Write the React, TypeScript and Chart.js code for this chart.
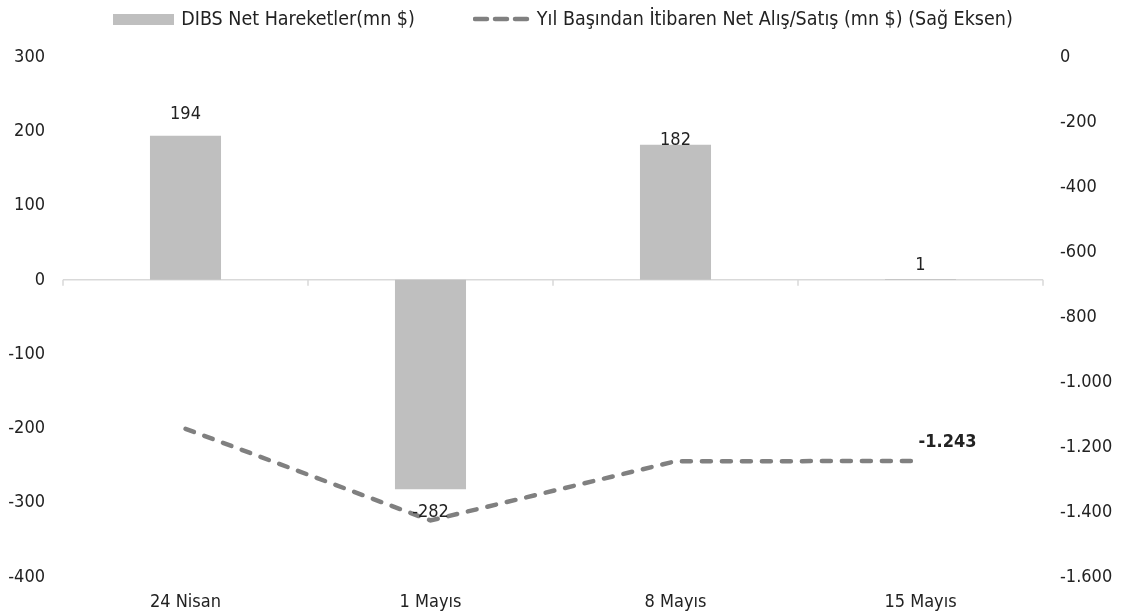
import React, { useEffect, useRef } from "react";
import { Chart, registerables } from "chart.js";

Chart.register(...registerables);

const categories = ["24 Nisan", "1 Mayıs", "8 Mayıs", "15 Mayıs"];
const dibsNet = [194, -282, 182, 1];
const ytdNet = [-1144, -1426, -1244, -1243];
const barLabel = "DIBS Net Hareketler(mn $)";
const lineLabel = "Yıl Başından İtibaren Net Alış/Satış (mn $) (Sağ Eksen)";
const leftRange = [-400, 300, 100];
const rightRange = [-1600, 0, 200];

const FONT = "'DejaVu Sans Condensed', 'DejaVu Sans', sans-serif";
const TEXT = "#222";
const BAR_COLOR = "#BFBFBF";
const LINE_COLOR = "#808080";

const fmtTR = (v: number) => {
  const s = Math.abs(Math.round(v)).toString().replace(/\B(?=(\d{3})+(?!\d))/g, ".");
  return (v < 0 ? "-" : "") + s;
};

const barOffsets = [-21, 23, -4, -14];

const overlay = {
  id: "overlay",
  beforeDatasetsDraw(chart: any) {
    const { ctx, chartArea } = chart;
    const x = chart.scales.x;
    const y = chart.scales.y;
    const y0 = y.getPixelForValue(0);
    ctx.save();
    ctx.strokeStyle = "#D9D9D9";
    ctx.lineWidth = 1.5;
    ctx.beginPath();
    ctx.moveTo(chartArea.left, y0);
    ctx.lineTo(chartArea.right, y0);
    for (let i = 0; i <= categories.length; i++) {
      const px = x.getPixelForValue(i - 0.5);
      ctx.moveTo(px, y0);
      ctx.lineTo(px, y0 + 6);
    }
    ctx.stroke();
    ctx.restore();
  },
  afterDatasetsDraw(chart: any) {
    const { ctx } = chart;
    ctx.save();
    ctx.font = `18px ${FONT}`;
    ctx.fillStyle = TEXT;
    ctx.textAlign = "center";
    ctx.textBaseline = "middle";
    const barMeta = chart.getDatasetMeta(0);
    barMeta.data.forEach((el: any, i: number) => {
      ctx.fillText(String(dibsNet[i]), el.x, el.y + barOffsets[i]);
    });
    const lineMeta = chart.getDatasetMeta(1);
    const last = lineMeta.data.length - 1;
    const p = lineMeta.data[last];
    ctx.font = `bold 18px ${FONT}`;
    ctx.fillText(fmtTR(ytdNet[last]), p.x + 27, p.y - 19);
    ctx.restore();
  },
};

export default function App() {
  const ref = useRef<HTMLCanvasElement>(null);
  useEffect(() => {
    document.body.style.margin = "0";
    const chart = new Chart(ref.current as HTMLCanvasElement, {
      type: "bar",
      data: {
        labels: categories,
        datasets: [
          {
            type: "bar",
            label: barLabel,
            data: dibsNet,
            backgroundColor: BAR_COLOR,
            borderWidth: 0,
            yAxisID: "y",
            categoryPercentage: 1,
            barPercentage: 0.29,
          } as any,
          {
            type: "line",
            label: lineLabel,
            data: ytdNet,
            borderColor: LINE_COLOR,
            backgroundColor: LINE_COLOR,
            borderWidth: 4.5,
            borderDash: [9, 11],
            borderCapStyle: "round",
            pointRadius: 0,
            tension: 0,
            fill: false,
            yAxisID: "y1",
          } as any,
        ],
      },
      options: {
        animation: false,
        responsive: false,
        maintainAspectRatio: false,
        layout: { padding: { top: 57, bottom: 0, left: 0, right: 0 } },
        plugins: {
          tooltip: { enabled: false },
          legend: { display: false },
        },
        scales: {
          x: {
            grid: { display: false },
            border: { display: false },
            ticks: { color: TEXT, font: { family: FONT, size: 18 }, padding: 7 },
            afterFit: (s: any) => {
              s.height = 38;
            },
          },
          y: {
            position: "left",
            min: leftRange[0],
            max: leftRange[1],
            grid: { display: false },
            border: { display: false },
            ticks: { stepSize: leftRange[2], color: TEXT, font: { family: FONT, size: 18 }, padding: 10 },
            afterFit: (s: any) => {
              s.width = 63;
            },
          },
          y1: {
            position: "right",
            min: rightRange[0],
            max: rightRange[1],
            grid: { display: false },
            border: { display: false },
            ticks: {
              stepSize: rightRange[2],
              color: TEXT,
              font: { family: FONT, size: 18 },
              padding: 9,
              callback: (v: any) => fmtTR(Number(v)),
            },
            afterFit: (s: any) => {
              s.width = 83;
            },
          },
        },
      },
      plugins: [overlay],
    });
    return () => chart.destroy();
  }, []);

  const legendText: React.CSSProperties = {
    fontFamily: FONT,
    fontSize: 19.5,
    color: TEXT,
    whiteSpace: "nowrap",
    lineHeight: "22px",
  };

  return (
    <div style={{ width: 1126, height: 615, position: "relative", background: "#fff" }}>
      <canvas ref={ref} width={1126} height={615} style={{ width: 1126, height: 615, display: "block" }} />
      <div
        style={{
          position: "absolute",
          top: 8,
          left: 0,
          width: 1126,
          display: "flex",
          justifyContent: "center",
          alignItems: "center",
          gap: 58,
        }}
      >
        <div style={{ display: "flex", alignItems: "center", gap: 7 }}>
          <span style={{ display: "inline-block", width: 61, height: 11, background: BAR_COLOR }} />
          <span style={legendText}>{barLabel}</span>
        </div>
        <div style={{ display: "flex", alignItems: "center", gap: 7 }}>
          <svg width={57} height={10} style={{ display: "block" }}>
            <line
              x1={2}
              y1={5}
              x2={55}
              y2={5}
              stroke={LINE_COLOR}
              strokeWidth={4.5}
              strokeDasharray="12 8"
              strokeLinecap="round"
            />
          </svg>
          <span style={legendText}>{lineLabel}</span>
        </div>
      </div>
    </div>
  );
}
